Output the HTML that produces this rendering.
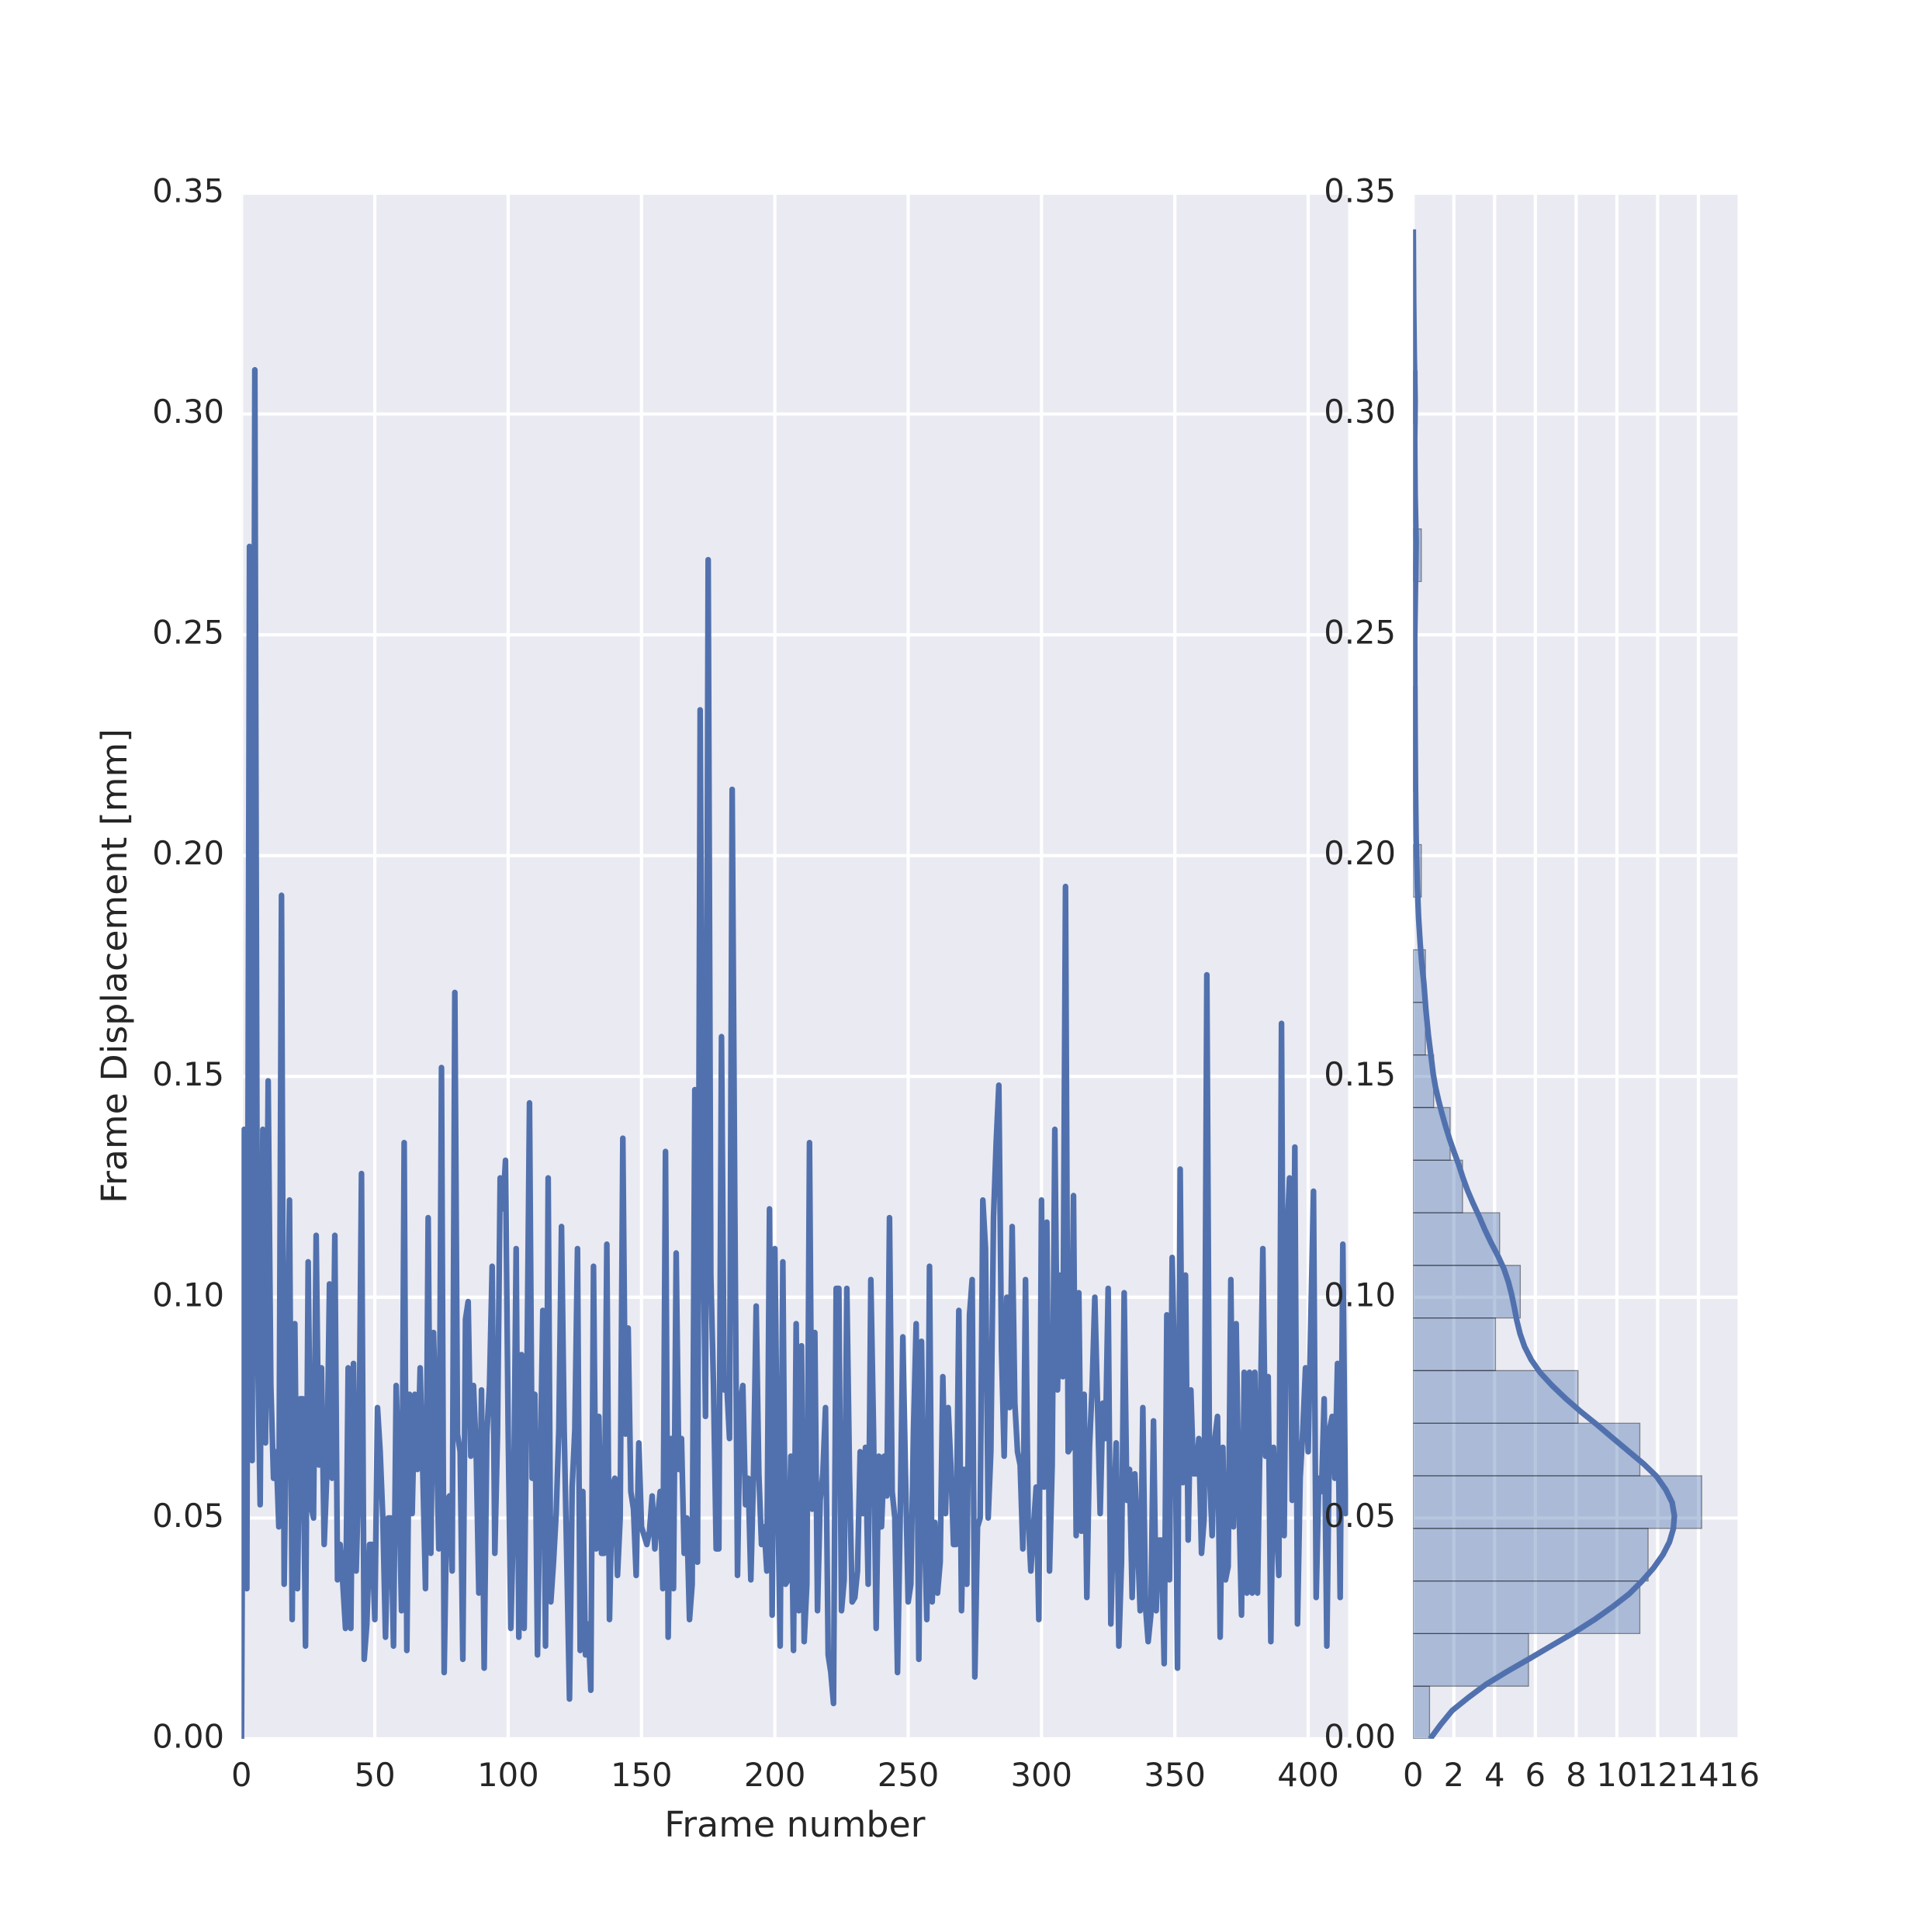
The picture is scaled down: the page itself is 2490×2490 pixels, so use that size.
<!DOCTYPE html>
<html>
<head>
<meta charset="utf-8">
<style>
html,body{margin:0;padding:0;background:#ffffff;}
svg{display:block;}
text{font-family:"DejaVu Sans","Liberation Sans",sans-serif;fill:#262626;}
.tk{font-size:41.67px;}
.lb{font-size:45.83px;}
</style>
</head>
<body>
<svg width="2490" height="2490" viewBox="0 0 2490 2490" xmlns="http://www.w3.org/2000/svg">
<rect x="0" y="0" width="2490" height="2490" fill="#ffffff"/>
<defs>
<clipPath id="cm"><rect x="311.25" y="249" width="1426.25" height="1992"/></clipPath>
<clipPath id="ch"><rect x="1821.2" y="249" width="420.3" height="1992"/></clipPath>
</defs>

<!-- Main axes background -->
<rect x="311.25" y="249" width="1426.25" height="1992" fill="#EAEAF2"/>
<g clip-path="url(#cm)" stroke="#ffffff" stroke-width="4.2">
<line x1="311.25" y1="249" x2="311.25" y2="2241"/>
<line x1="483.09" y1="249" x2="483.09" y2="2241"/>
<line x1="654.94" y1="249" x2="654.94" y2="2241"/>
<line x1="826.78" y1="249" x2="826.78" y2="2241"/>
<line x1="998.62" y1="249" x2="998.62" y2="2241"/>
<line x1="1170.47" y1="249" x2="1170.47" y2="2241"/>
<line x1="1342.31" y1="249" x2="1342.31" y2="2241"/>
<line x1="1514.15" y1="249" x2="1514.15" y2="2241"/>
<line x1="1685.99" y1="249" x2="1685.99" y2="2241"/>
<line x1="311.25" y1="2241" x2="1737.5" y2="2241"/>
<line x1="311.25" y1="1956.43" x2="1737.5" y2="1956.43"/>
<line x1="311.25" y1="1671.86" x2="1737.5" y2="1671.86"/>
<line x1="311.25" y1="1387.29" x2="1737.5" y2="1387.29"/>
<line x1="311.25" y1="1102.71" x2="1737.5" y2="1102.71"/>
<line x1="311.25" y1="818.14" x2="1737.5" y2="818.14"/>
<line x1="311.25" y1="533.57" x2="1737.5" y2="533.57"/>
<line x1="311.25" y1="249" x2="1737.5" y2="249"/>
</g>

<!-- Main line series -->
<g clip-path="url(#cm)">
<g transform="translate(311.25 2241) scale(3.43687 -5.69143)">
<polyline fill="none" stroke="#5171ae" stroke-width="7.3" vector-effect="non-scaling-stroke" stroke-linejoin="round" stroke-linecap="round" points="0,0 1,138 2,34 3,270 4,63 5,310 6,90 7,53 8,138 9,67 10,149 11,80 12,59 13,65 14,48 15,191 16,35 17,80 18,122 19,27 20,94 21,34 22,77 23,77 24,21 25,108 26,53 27,50 28,114 29,62 30,84 31,44 32,60 33,103 34,59 35,114 36,36 37,44 38,35 39,25 40,84 41,25 42,85 43,38 44,60 45,128 46,18 47,26 48,44 49,44 50,27 51,75 52,65 53,50 54,23 55,50 56,50 57,21 58,80 59,60 60,29 61,135 62,20 63,78 64,51 65,78 66,61 67,84 68,60 69,34 70,118 71,42 72,92 73,70 74,43 75,152 76,15 77,54 78,55 79,38 80,169 81,69 82,65 83,18 84,95 85,99 86,64 87,80 88,65 89,33 90,79 91,16 92,69 93,80 94,107 95,42 96,69 97,127 98,120 99,131 100,70 101,25 102,50 103,111 104,23 105,87 106,25 107,80 108,144 109,59 110,78 111,19 112,60 113,97 114,21 115,127 116,31 117,40 118,51 119,70 120,116 121,70 122,40 123,9 124,57 125,70 126,111 127,20 128,56 129,19 130,26 131,11 132,107 133,43 134,73 135,42 136,42 137,112 138,27 139,57 140,59 141,37 142,50 143,136 144,69 145,93 146,56 147,52 148,37 149,67 150,48 151,46 152,44 153,47 154,55 155,43 156,50 157,56 158,34 159,133 160,23 161,68 162,34 163,110 164,61 165,68 166,42 167,50 168,27 169,35 170,147 171,40 172,233 173,120 174,73 175,267 176,105 177,80 178,43 179,43 180,159 181,79 182,80 183,68 184,215 185,120 186,37 187,76 188,80 189,53 190,59 191,36 192,60 193,98 194,60 195,44 196,48 197,38 198,120 199,28 200,111 201,60 202,21 203,108 204,35 205,36 206,64 207,20 208,94 209,29 210,89 211,22 212,35 213,135 214,52 215,92 216,29 217,54 218,60 219,75 220,19 221,15 222,8 223,102 224,102 225,29 226,36 227,102 228,60 229,31 230,32 231,38 232,65 233,51 234,66 235,35 236,104 237,70 238,25 239,64 240,48 241,64 242,55 243,118 244,56 245,50 246,15 247,50 248,91 249,60 250,31 251,35 252,70 253,94 254,18 255,90 256,50 257,27 258,107 259,31 260,49 261,33 262,40 263,82 264,51 265,75 266,62 267,44 268,44 269,97 270,29 271,61 272,35 273,96 274,104 275,14 276,48 277,50 278,122 279,111 280,50 281,65 282,118 283,135 284,148 285,88 286,64 287,100 288,75 289,116 290,76 291,65 292,62 293,43 294,104 295,50 296,38 297,48 298,57 299,27 300,122 301,57 302,117 303,38 304,62 305,138 306,79 307,105 308,82 309,193 310,65 311,66 312,123 313,46 314,101 315,47 316,78 317,32 318,66 319,80 320,100 321,76 322,51 323,76 324,68 325,102 326,26 327,50 328,67 329,21 330,40 331,101 332,54 333,61 334,32 335,60 336,45 337,29 338,75 339,30 340,22 341,28 342,72 343,29 344,45 345,45 346,17 347,96 348,36 349,109 350,80 351,16 352,129 353,58 354,105 355,45 356,79 357,60 358,60 359,68 360,42 361,50 362,173 363,60 364,46 365,68 366,73 367,23 368,66 369,36 370,39 371,104 372,48 373,94 374,55 375,28 376,83 377,33 378,83 379,33 380,83 381,33 382,70 383,111 384,64 385,82 386,22 387,66 388,50 389,37 390,162 391,46 392,113 393,127 394,54 395,134 396,26 397,59 398,70 399,84 400,65 401,95 402,124 403,32 404,59 405,56 406,77 407,21 408,70 409,73 410,59 411,85 412,32 413,112 414,51"/>
</g>
</g>

<!-- Main y tick labels -->
<g text-anchor="end">
<text class="tk" x="289" y="2252.5">0.00</text>
<text class="tk" x="289" y="1967.9">0.05</text>
<text class="tk" x="289" y="1683.4">0.10</text>
<text class="tk" x="289" y="1398.8">0.15</text>
<text class="tk" x="289" y="1114.2">0.20</text>
<text class="tk" x="289" y="829.6">0.25</text>
<text class="tk" x="289" y="545.1">0.30</text>
<text class="tk" x="289" y="260.5">0.35</text>
</g>
<!-- Main x tick labels -->
<g text-anchor="middle">
<text class="tk" x="311.25" y="2302">0</text>
<text class="tk" x="483.09" y="2302">50</text>
<text class="tk" x="654.94" y="2302">100</text>
<text class="tk" x="826.78" y="2302">150</text>
<text class="tk" x="998.62" y="2302">200</text>
<text class="tk" x="1170.47" y="2302">250</text>
<text class="tk" x="1342.31" y="2302">300</text>
<text class="tk" x="1514.15" y="2302">350</text>
<text class="tk" x="1685.99" y="2302">400</text>
</g>
<text class="lb" x="1024.4" y="2367" text-anchor="middle">Frame number</text>
<text class="lb" transform="translate(163 1245) rotate(-90)" text-anchor="middle">Frame Displacement [mm]</text>

<!-- Histogram axes -->
<rect x="1821.2" y="249" width="420.3" height="1992" fill="#EAEAF2"/>
<g clip-path="url(#ch)" stroke="#ffffff" stroke-width="4.2">
<line x1="1821.2" y1="249" x2="1821.2" y2="2241"/>
<line x1="1873.74" y1="249" x2="1873.74" y2="2241"/>
<line x1="1926.28" y1="249" x2="1926.28" y2="2241"/>
<line x1="1978.82" y1="249" x2="1978.82" y2="2241"/>
<line x1="2031.36" y1="249" x2="2031.36" y2="2241"/>
<line x1="2083.9" y1="249" x2="2083.9" y2="2241"/>
<line x1="2136.44" y1="249" x2="2136.44" y2="2241"/>
<line x1="2188.98" y1="249" x2="2188.98" y2="2241"/>
<line x1="2241.5" y1="249" x2="2241.5" y2="2241"/>
<line x1="1821.2" y1="2241" x2="2241.5" y2="2241"/>
<line x1="1821.2" y1="1956.43" x2="2241.5" y2="1956.43"/>
<line x1="1821.2" y1="1671.86" x2="2241.5" y2="1671.86"/>
<line x1="1821.2" y1="1387.29" x2="2241.5" y2="1387.29"/>
<line x1="1821.2" y1="1102.71" x2="2241.5" y2="1102.71"/>
<line x1="1821.2" y1="818.14" x2="2241.5" y2="818.14"/>
<line x1="1821.2" y1="533.57" x2="2241.5" y2="533.57"/>
<line x1="1821.2" y1="249" x2="2241.5" y2="249"/>
</g>

<g clip-path="url(#ch)">
<g transform="translate(1821.2 2241) scale(26.27 -5.69143)">
<g fill="#4c72b0" fill-opacity="0.4" stroke="#000000" stroke-opacity="0.4" stroke-width="1.3">
<rect x="0" y="0" width="0.809" height="11.912" vector-effect="non-scaling-stroke"/>
<rect x="0" y="11.912" width="5.664" height="11.912" vector-effect="non-scaling-stroke"/>
<rect x="0" y="23.824" width="11.126" height="11.912" vector-effect="non-scaling-stroke"/>
<rect x="0" y="35.736" width="11.531" height="11.912" vector-effect="non-scaling-stroke"/>
<rect x="0" y="47.648" width="14.160" height="11.912" vector-effect="non-scaling-stroke"/>
<rect x="0" y="59.56" width="11.126" height="11.912" vector-effect="non-scaling-stroke"/>
<rect x="0" y="71.472" width="8.092" height="11.912" vector-effect="non-scaling-stroke"/>
<rect x="0" y="83.384" width="4.046" height="11.912" vector-effect="non-scaling-stroke"/>
<rect x="0" y="95.296" width="5.260" height="11.912" vector-effect="non-scaling-stroke"/>
<rect x="0" y="107.208" width="4.248" height="11.912" vector-effect="non-scaling-stroke"/>
<rect x="0" y="119.12" width="2.427" height="11.912" vector-effect="non-scaling-stroke"/>
<rect x="0" y="131.032" width="1.821" height="11.912" vector-effect="non-scaling-stroke"/>
<rect x="0" y="142.944" width="1.011" height="11.912" vector-effect="non-scaling-stroke"/>
<rect x="0" y="154.856" width="0.607" height="11.912" vector-effect="non-scaling-stroke"/>
<rect x="0" y="166.768" width="0.607" height="11.912" vector-effect="non-scaling-stroke"/>
<rect x="0" y="190.592" width="0.405" height="11.912" vector-effect="non-scaling-stroke"/>
<rect x="0" y="214.416" width="0.202" height="11.912" vector-effect="non-scaling-stroke"/>
<rect x="0" y="226.328" width="0.202" height="11.912" vector-effect="non-scaling-stroke"/>
<rect x="0" y="262.064" width="0.405" height="11.912" vector-effect="non-scaling-stroke"/>
<rect x="0" y="297.8" width="0.202" height="11.912" vector-effect="non-scaling-stroke"/>
</g>
<polyline fill="none" stroke="#5171ae" stroke-width="7.3" vector-effect="non-scaling-stroke" stroke-linejoin="round" points="0.84,0 1.35,3.2 1.92,6.4 2.7,9.3 3.57,12.3 4.6,15.2 5.73,18.2 6.8,21.1 7.88,24.0 8.9,27 9.79,29.9 10.6,32.8 11.25,35.8 11.8,38.7 12.26,41.7 12.58,44.6 12.77,47.6 12.82,50.5 12.71,53.5 12.4,56.4 11.95,59.4 11.3,62.3 10.55,65.2 9.8,68.1 9.03,71.1 8.25,74 7.5,77.0 6.82,80 6.24,82.9 5.8,85.8 5.47,88.8 5.25,91.7 5.09,94.7 4.97,97.6 4.84,100.5 4.68,103.4 4.46,106.4 4.17,109.3 3.83,112.3 3.53,115.2 3.25,118.2 2.96,121.1 2.68,124.1 2.45,127 2.24,130 2.01,132.9 1.79,135.8 1.59,138.8 1.41,141.7 1.25,144.6 1.10,147.6 0.99,150.5 0.91,153.5 0.83,156.4 0.75,159.4 0.63,165 0.53,171.1 0.43,175.5 0.35,180 0.27,186 0.21,193 0.15,204 0.12,215 0.09,235 0.08,249 0.12,262 0.15,271 0.10,282 0.08,294 0.10,303 0.06,313 0.03,325 0.01,341.8"/>
</g>
</g>

<!-- Histogram y tick labels -->
<g text-anchor="end">
<text class="tk" x="1799" y="2252.5">0.00</text>
<text class="tk" x="1799" y="1967.9">0.05</text>
<text class="tk" x="1799" y="1683.4">0.10</text>
<text class="tk" x="1799" y="1398.8">0.15</text>
<text class="tk" x="1799" y="1114.2">0.20</text>
<text class="tk" x="1799" y="829.6">0.25</text>
<text class="tk" x="1799" y="545.1">0.30</text>
<text class="tk" x="1799" y="260.5">0.35</text>
</g>
<!-- Histogram x tick labels -->
<g text-anchor="middle">
<text class="tk" x="1821.2" y="2302">0</text>
<text class="tk" x="1873.74" y="2302">2</text>
<text class="tk" x="1926.28" y="2302">4</text>
<text class="tk" x="1978.82" y="2302">6</text>
<text class="tk" x="2031.36" y="2302">8</text>
<text class="tk" x="2083.9" y="2302">10</text>
<text class="tk" x="2136.44" y="2302">12</text>
<text class="tk" x="2188.98" y="2302">14</text>
<text class="tk" x="2241.5" y="2302">16</text>
</g>
</svg>
</body>
</html>
